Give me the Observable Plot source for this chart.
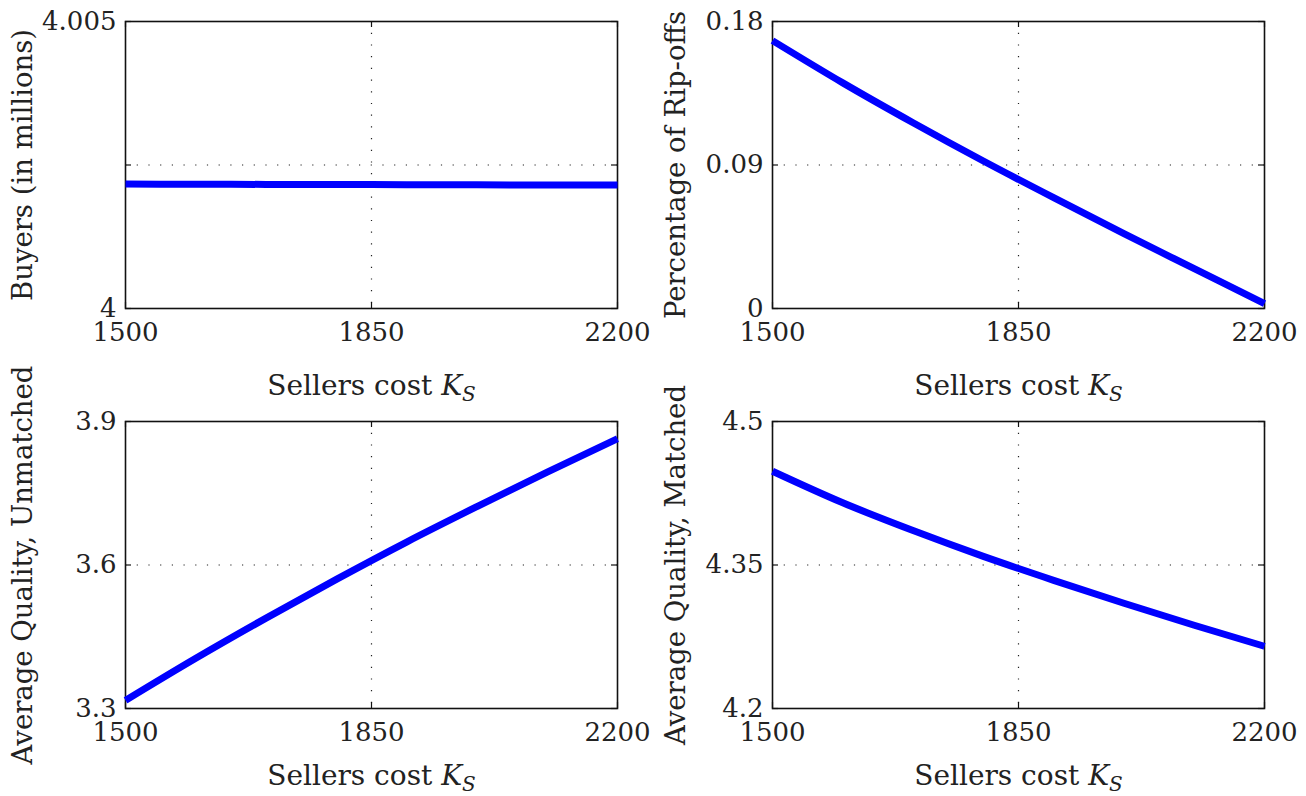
<!DOCTYPE html>
<html>
<head>
<meta charset="utf-8">
<script src="https://cdn.jsdelivr.net/npm/d3@7"></script>
<script src="https://cdn.jsdelivr.net/npm/@observablehq/plot@0.6"></script>
<style>
  html, body { margin: 0; padding: 0; background: #fff; }
  #grid { position: relative; width: 1306px; height: 796px; overflow: hidden; }
  .cell { position: absolute; }
  svg { overflow: visible; }
  svg, svg text, svg tspan { font-family: "DejaVu Serif", "Liberation Serif", serif !important; }
</style>
</head>
<body>
<div id="grid"></div>
<script>
// ---- data ----
const sellersCost = [1500, 1600, 1700, 1800, 1900, 2000, 2100, 2200];
const buyers = [4.002167, 4.002165, 4.002162, 4.00216, 4.002158, 4.002155, 4.002152, 4.00215];
const ripOffs = [0.168, 0.1415, 0.1165, 0.0925, 0.0695, 0.047, 0.025, 0.003];
const qualityUnmatched = [3.317, 3.405, 3.489, 3.570, 3.648, 3.722, 3.794, 3.864];
const qualityMatched = [4.448, 4.415, 4.386, 4.359, 4.334, 4.310, 4.287, 4.265];

const xTicks = [1500, 1850, 2200];
const xTickLabels = ["1500", "1850", "2200"];
const buyersTicks = [4, 4.0025, 4.005];
const buyersTickLabels = ["4", "", "4.005"];
const ripTicks = [0, 0.09, 0.18];
const ripTickLabels = ["0", "0.09", "0.18"];
const unmatchedTicks = [3.3, 3.6, 3.9];
const unmatchedTickLabels = ["3.3", "3.6", "3.9"];
const matchedTicks = [4.2, 4.35, 4.5];
const matchedTickLabels = ["4.2", "4.35", "4.5"];

const xLabel = "Sellers cost K_S";
const yLabels = ["Buyers (in millions)", "Percentage of Rip-offs", "Average Quality, Unmatched", "Average Quality, Matched"];

// ---- layout ----
const W = 653;
const cells = [
  {left: 0,   top: 0,   height: 400, mL: 125, mR: 36, mT: 21, mB: 92, xlo: 86},
  {left: 653, top: 0,   height: 400, mL: 119, mR: 42, mT: 21, mB: 92, xlo: 86},
  {left: 0,   top: 400, height: 396, mL: 125, mR: 36, mT: 21, mB: 88, xlo: 76},
  {left: 653, top: 400, height: 396, mL: 119, mR: 42, mT: 21, mB: 88, xlo: 76}
];
const series = [
  {values: buyers, ticks: buyersTicks, labels: buyersTickLabels},
  {values: ripOffs, ticks: ripTicks, labels: ripTickLabels},
  {values: qualityUnmatched, ticks: unmatchedTicks, labels: unmatchedTickLabels},
  {values: qualityMatched, ticks: matchedTicks, labels: matchedTickLabels}
];

const font = "DejaVu Serif";
const grid = document.getElementById("grid");

series.forEach((s, i) => {
  const c = cells[i];
  const frameW = W - c.mL - c.mR;
  const frameH = c.height - c.mT - c.mB;
  const data = sellersCost.map((x, j) => ({x, y: s.values[j]}));
  const yFmt = d => s.labels[s.ticks.indexOf(d)] ?? "";
  const xFmt = d => xTickLabels[xTicks.indexOf(d)] ?? "";
  const chart = Plot.plot({
    width: W,
    height: c.height,
    marginLeft: c.mL,
    marginRight: c.mR,
    marginTop: c.mT,
    marginBottom: c.mB,
    style: {fontFamily: font, fontSize: "26px", color: "#222", background: "transparent", overflow: "visible"},
    x: {domain: [xTicks[0], xTicks[2]]},
    y: {domain: [s.ticks[0], s.ticks[2]]},
    marks: [
      Plot.gridX([xTicks[1]], {stroke: "#222", strokeOpacity: 1, strokeWidth: 1.2, strokeDasharray: "1.2,10.5"}),
      Plot.gridY([s.ticks[1]], {stroke: "#222", strokeOpacity: 1, strokeWidth: 1.2, strokeDasharray: "1.2,10.5"}),
      Plot.frame({stroke: "#111", strokeWidth: 1.6}),
      Plot.ruleX(xTicks, {stroke: "#111", strokeWidth: 1.2, insetTop: frameH - 6}),
      Plot.ruleX(xTicks, {stroke: "#111", strokeWidth: 1.2, insetBottom: frameH - 6}),
      Plot.ruleY(s.ticks, {stroke: "#111", strokeWidth: 1.2, insetRight: frameW - 6}),
      Plot.ruleY(s.ticks, {stroke: "#111", strokeWidth: 1.2, insetLeft: frameW - 6}),
      Plot.axisX({ticks: xTicks, tickSize: 0, tickPadding: 14, tickFormat: xFmt,
        label: xLabel, labelAnchor: "center", labelArrow: "none", labelOffset: c.xlo, fontSize: 26}),
      Plot.axisY({ticks: s.ticks, tickSize: 0, tickPadding: 9, tickFormat: yFmt,
        label: yLabels[i], labelAnchor: "center", labelArrow: "none", labelOffset: c.mL - 12, fontSize: 26}),
      Plot.line(data, {x: "x", y: "y", curve: "monotone-x", stroke: "#0000ff", strokeWidth: 7, strokeLinecap: "butt", strokeLinejoin: "round"})
    ]
  });
  // rich x label: italic K with subscript S
  const xl = chart.querySelector('[aria-label="x-axis label"] text');
  if (xl) {
    xl.textContent = "";
    const sel = d3.select(xl).style("font-size", "28px");
    sel.append("tspan").text("Sellers cost ");
    sel.append("tspan").style("font-style", "italic").text("K");
    sel.append("tspan").style("font-style", "italic").style("font-size", "20px").attr("dy", "0.3em").text("S");
  }
  const yl = chart.querySelector('[aria-label="y-axis label"] text');
  if (yl) d3.select(yl).style("font-size", "27.5px");
  const wrap = document.createElement("div");
  wrap.className = "cell";
  wrap.style.left = c.left + "px";
  wrap.style.top = c.top + "px";
  wrap.appendChild(chart);
  grid.appendChild(wrap);
});
</script>
</body>
</html>
